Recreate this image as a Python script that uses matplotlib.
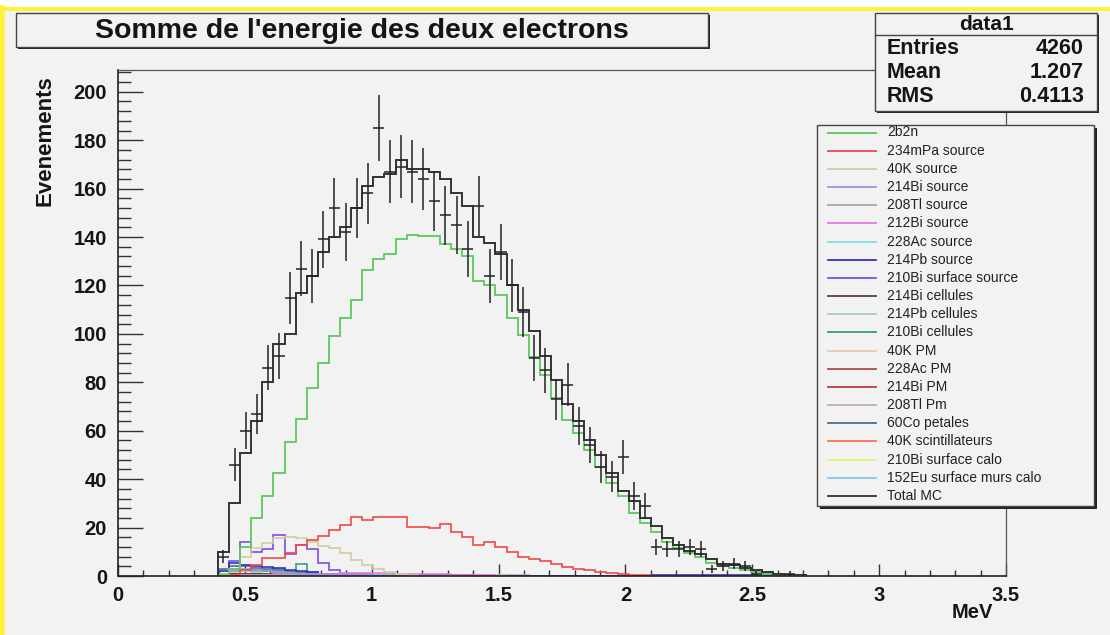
import numpy as np
import matplotlib
matplotlib.use("Agg")
import matplotlib.pyplot as plt
from matplotlib.patches import Rectangle
from matplotlib.lines import Line2D
from matplotlib.transforms import Affine2D
from matplotlib.ticker import MultipleLocator, FuncFormatter

plt.rcParams["font.family"] = ["Liberation Sans", "DejaVu Sans"]

# binning: 80 bins over 0 - 3.5 MeV, the lists below start at bin 9
E_MIN, E_MAX, N_BINS = 0.0, 3.5, 80
FIRST_BIN = 9

# measured events per bin
data_counts = [8, 46, 60, 67, 86, 91, 115, 127, 124, 139, 152, 142, 152, 158, 185,
               167, 169, 167, 164, 155, 149, 145, 135, 153, 124, 134, 120, 109, 90,
               85, 73, 79, 62, 54, 45, 41, 49, 33, 29, 12, 11, 11, 12, 11,
               3, 4, 5, 4, 1, 0, 0, 1]

# Monte Carlo components
mc_2b2n = [0.5, 3, 12, 24, 33, 42.5, 55.5, 65, 77.5, 88, 99, 106.5, 114, 126.5, 131,
           133, 139, 141, 140.5, 140.5, 137, 135, 132, 122, 120, 116, 106.5, 99.5, 90.5,
           83, 73.5, 64.5, 59, 52, 45, 38.5, 33, 26, 22, 18.3, 14, 11.4, 9.4, 8,
           5.5, 4, 3.5, 2.5, 1.5, 1, 0.5, 0.3, 0.1]
mc_234mpa_src = [0, 0.5, 2.5, 4.5, 7.3, 7.3, 9.4, 12.8, 14.9, 16.5, 19, 21, 24.5, 23.1,
                 24.2, 24.2, 24.2, 20.4, 20.4, 19.7, 21.3, 18.3, 16.2, 12.8, 14.2, 12.1,
                 10.1, 8, 7, 6, 4.8, 3.8, 3, 2.4, 1.7, 1.2, 0.8, 0.5, 0.3]
mc_40k_src = [1, 3, 8, 11.5, 13.5, 15.5, 16, 15.5, 14, 12.5, 11.5, 9.5, 6.5, 4.5, 3,
              1.5, 0.8, 0.3]
mc_214bi_src = [0.5, 2, 3, 2.5, 2, 1.5, 1.2, 1, 0.8, 0.6, 0.5, 0.4, 0.3, 0.3, 0.2,
                0.2, 0.2, 0.1, 0.1, 0.1]
mc_208tl_src = [0.2, 0.5, 0.5, 0.4, 0.4, 0.3, 0.3, 0.3, 0.3, 0.3, 0.3, 0.3, 0.3, 0.2,
                0.2, 0.2, 0.2, 0.2, 0.2, 0.2]
mc_212bi_src = [0, 0.3, 0.5, 0.5, 0.6, 0.7, 0.8, 0.8, 0.9, 1, 1, 1.1, 1.2, 1.2, 1.2,
                1.1, 1, 1, 0.9, 0.8, 0.7, 0.6, 0.5, 0.4, 0.3, 0.2]
mc_228ac_src = [0.3, 0.5, 0.6, 0.6, 0.5, 0.5, 0.5, 0.4, 0.4, 0.4, 0.3, 0.3, 0.3, 0.3,
                0.3, 0.3, 0.3, 0.2, 0.2, 0.2, 0.2, 0.2]
mc_214pb_src = [2, 5.5, 4.5, 4, 3.8, 3.5, 2.5, 2, 1.5, 1, 0.7, 0.5, 0.3, 0.2, 0.2,
                0.2, 0.2, 0.2, 0.2, 0.2, 0.2, 0.2, 0.2, 0.2, 0.2, 0.2, 0.2, 0.2, 0.2,
                0.2, 0.2, 0.2, 0.2, 0.2, 0.2, 0.2, 0.2, 0.2, 0.2, 0.3, 0.3, 0.3, 0.3,
                0.3, 0.3, 0.3, 0.3, 0.3, 0.3, 0.3, 0.3, 0.3, 0.3]
mc_210bi_surf_src = [1, 6, 14, 10, 11, 17, 9, 13, 11.3, 5.5, 2.6, 0.8, 0.5, 0.3]
mc_214bi_cell = [0.5, 1, 1, 1, 1, 1, 0.8, 0.8, 0.8, 0.8, 0.8, 0.8, 0.7, 0.7, 0.6,
                 0.6, 0.5, 0.5, 0.4, 0.4, 0.3, 0.3, 0.3, 0.2, 0.2]
mc_214pb_cell = [1, 2, 2, 1.5, 1, 0.8, 0.5, 0.4, 0.3, 0.2]
mc_210bi_cell = [0.5, 2, 2.5, 2, 2, 3, 1.5, 4.8, 1.5, 1, 0.5, 0.3]
mc_40k_pm = [0.5, 1.5, 2, 1.5, 1, 1, 0.8, 0.5, 0.4, 0.3, 0.2]
mc_228ac_pm = [0.3, 0.5, 0.5, 0.5, 0.5, 0.4, 0.4, 0.4, 0.3, 0.3, 0.3, 0.3, 0.2, 0.2]
mc_214bi_pm = [1, 1, 1, 0.8, 0.8, 0.7, 0.7, 0.6, 0.6, 0.6, 0.6, 0.6, 0.6, 0.6, 0.6,
               0.5, 0.5, 0.5, 0.5, 0.4, 0.4, 0.3, 0.3, 0.2]
mc_208tl_pm = [0.3, 0.4, 0.4, 0.4, 0.4, 0.4, 0.4, 0.4, 0.4, 0.4, 0.4, 0.4, 0.4, 0.4,
               0.4, 0.4, 0.4, 0.4, 0.4, 0.4, 0.3, 0.3, 0.3, 0.3, 0.3, 0.3, 0.3, 0.3]
mc_60co_pet = [3, 4, 4, 3.5, 3, 2.5, 2, 1.5, 1.2, 1, 0.8, 0.6, 0.5, 0.5, 0.4, 0.4,
               0.3, 0.3, 0.3, 0.2]
mc_40k_scint = [1, 2, 2.5, 2.5, 2, 1.5, 1, 0.6, 0.3]
mc_210bi_surf_calo = [2, 1.5, 0.8, 0.5, 0.3]
mc_152eu_calo = [0.5, 1, 1, 0.8, 0.6, 0.5, 0.4, 0.3, 0.3, 0.2]
total_mc = [10, 30, 51, 64, 80, 96, 100, 117, 124, 134, 140, 144, 152, 161, 165,
            166, 172, 168, 168, 167, 164, 158, 153, 140, 137.5, 133, 120, 110, 101,
            91, 81, 71, 64, 56, 50, 42.5, 35, 31, 24, 20.5, 15.5, 13, 10.5, 9,
            7, 5, 4.5, 3.5, 2.5, 1.5, 1, 0.5, 0.3]

components = [
    ("2b2n", mc_2b2n, "#5ec85e"),
    ("234mPa source", mc_234mpa_src, "#f04848"),
    ("40K source", mc_40k_src, "#d2cc9c"),
    ("214Bi source", mc_214bi_src, "#9696e0"),
    ("208Tl source", mc_208tl_src, "#a8a8a8"),
    ("212Bi source", mc_212bi_src, "#e878e8"),
    ("228Ac source", mc_228ac_src, "#80e0e0"),
    ("214Pb source", mc_214pb_src, "#3434b8"),
    ("210Bi surface source", mc_210bi_surf_src, "#7a4ee8"),
    ("214Bi cellules", mc_214bi_cell, "#5a4040"),
    ("214Pb cellules", mc_214pb_cell, "#a4cccc"),
    ("210Bi cellules", mc_210bi_cell, "#3c9c80"),
    ("40K PM", mc_40k_pm, "#e4ccaa"),
    ("228Ac PM", mc_228ac_pm, "#a85050"),
    ("214Bi PM", mc_214bi_pm, "#b83838"),
    ("208Tl Pm", mc_208tl_pm, "#c4aac4"),
    ("60Co petales", mc_60co_pet, "#4a7090"),
    ("40K scintillateurs", mc_40k_scint, "#ff7050"),
    ("210Bi surface calo", mc_210bi_surf_calo, "#eeee70"),
    ("152Eu surface murs calo", mc_152eu_calo, "#88c4ee"),
]
total_color = "#333333"

W, H = 1110, 635
BG = "#f2f2f2"
TXT = "#151515"

fig = plt.figure(figsize=(W / 100, H / 100), dpi=100)
fig.patch.set_facecolor("white")
# pixel coordinates measured from the top-left corner
px = Affine2D().scale(1 / W, -1 / H).translate(0, 1) + fig.transFigure

fig.add_artist(Rectangle((0, 8), W, H, facecolor=BG, edgecolor="none",
                         transform=px, zorder=-10))
fig.add_artist(Line2D([0, W], [9, 9], color="#fff23c", lw=3, transform=px, zorder=-9))
fig.add_artist(Line2D([2, 2], [8, H], color="#fff23c", lw=4, transform=px, zorder=-9))

# main frame
x0, x1, ytop, ybot = 118, 1006, 70, 576
ax = fig.add_axes([x0 / W, 1 - ybot / H, (x1 - x0) / W, (ybot - ytop) / H])
ax.set_facecolor(BG)

edges = np.linspace(E_MIN, E_MAX, N_BINS + 1)
width = edges[1] - edges[0]


def draw_hist(vals, color, lw, z):
    e = edges[FIRST_BIN:FIRST_BIN + len(vals) + 1]
    ax.stairs(vals, e, color=color, lw=lw, zorder=z)


for i, (name, vals, col) in enumerate(components):
    draw_hist(vals, col, 1.3 if name == "2b2n" else 1.2, 2 + 0.01 * (len(components) - i))
draw_hist(total_mc, total_color, 1.4, 3)

counts = np.array(data_counts, dtype=float)
centers = edges[FIRST_BIN:FIRST_BIN + len(counts)] + width / 2
keep = counts > 0
ax.errorbar(centers[keep], counts[keep], xerr=width / 2, yerr=np.sqrt(counts[keep]),
            fmt="none", ecolor="#222222", elinewidth=1.1, zorder=4)

ax.set_xlim(E_MIN, E_MAX)
ax.set_ylim(0, 209)
ax.xaxis.set_major_locator(MultipleLocator(0.5))
ax.xaxis.set_minor_locator(MultipleLocator(0.1))
ax.yaxis.set_major_locator(MultipleLocator(20))
ax.yaxis.set_minor_locator(MultipleLocator(4))
ax.xaxis.set_major_formatter(FuncFormatter(lambda v, p: "%g" % v))
ax.tick_params(axis="x", which="major", direction="in", length=8.5, width=1.0,
               color="#333333", labelsize=14.5, pad=7, labelcolor=TXT)
ax.tick_params(axis="x", which="minor", direction="in", length=4.3, width=1.0, color="#333333")
ax.tick_params(axis="y", which="major", direction="in", length=18, width=1.0,
               color="#333333", labelsize=14.5, pad=8, labelcolor=TXT)
ax.tick_params(axis="y", which="minor", direction="in", length=9.4, width=1.0, color="#333333")
for lab in ax.get_xticklabels() + ax.get_yticklabels():
    lab.set_fontweight("bold")
for side in ("left", "bottom"):
    ax.spines[side].set_color("#222222")
    ax.spines[side].set_linewidth(1.2)
for side in ("top", "right"):
    ax.spines[side].set_color("#555555")
    ax.spines[side].set_linewidth(0.9)

fig.text(45 / W, 1 - 141 / H, "Evenements", rotation=90, ha="center", va="center",
         fontsize=16, fontweight="bold", color=TXT)
fig.text(993 / W, 1 - 612 / H, "MeV", ha="right", va="center",
         fontsize=14.5, fontweight="bold", color=TXT)


def pave(xa, ya, xb, yb, shadow):
    fig.add_artist(Rectangle((xa + shadow, ya + shadow), xb - xa, yb - ya,
                             facecolor="#222222", edgecolor="none", transform=px, zorder=5))
    fig.add_artist(Rectangle((xa, ya), xb - xa, yb - ya, facecolor=BG,
                             edgecolor="#444444", lw=1.0, transform=px, zorder=6))


# title box
pave(16, 13, 708, 47, 2)
fig.text(362 / W, 1 - 31 / H, "Somme de l'energie des deux electrons", ha="center",
         va="center", fontsize=20.5, fontweight="bold", color=TXT, zorder=7)

# statistics box
pave(875, 13, 1097, 111, 2)
fig.add_artist(Line2D([875, 1097], [35, 35], color="#444444", lw=1.0, transform=px, zorder=7))
fig.text(986 / W, 1 - 24 / H, "data1", ha="center", va="center",
         fontsize=15, fontweight="bold", color=TXT, zorder=7)
stats = [("Entries", "4260"), ("Mean", "1.207"), ("RMS", "0.4113")]
for k, (lab, val) in enumerate(stats):
    yy = 1 - (48 + 24.5 * k) / H
    fig.text(887 / W, yy, lab, ha="left", va="center", fontsize=15.5,
             fontweight="bold", color=TXT, zorder=7)
    fig.text(1084 / W, yy, val, ha="right", va="center", fontsize=15.5,
             fontweight="bold", color=TXT, zorder=7)

# legend box
pave(817, 125, 1094, 506, 3)
entries = [(n, c) for n, v, c in components] + [("Total MC", total_color)]
step = (496 - 132.5) / (len(entries) - 1)
for k, (name, col) in enumerate(entries):
    yy = 132.5 + step * k
    fig.add_artist(Line2D([828, 876], [yy, yy], color=col, lw=1.3, transform=px, zorder=7))
    fig.text(887 / W, 1 - yy / H, name, ha="left", va="center", fontsize=10,
             color="#222222", zorder=7)

fig.savefig("out.png", dpi=100, facecolor=fig.get_facecolor())
